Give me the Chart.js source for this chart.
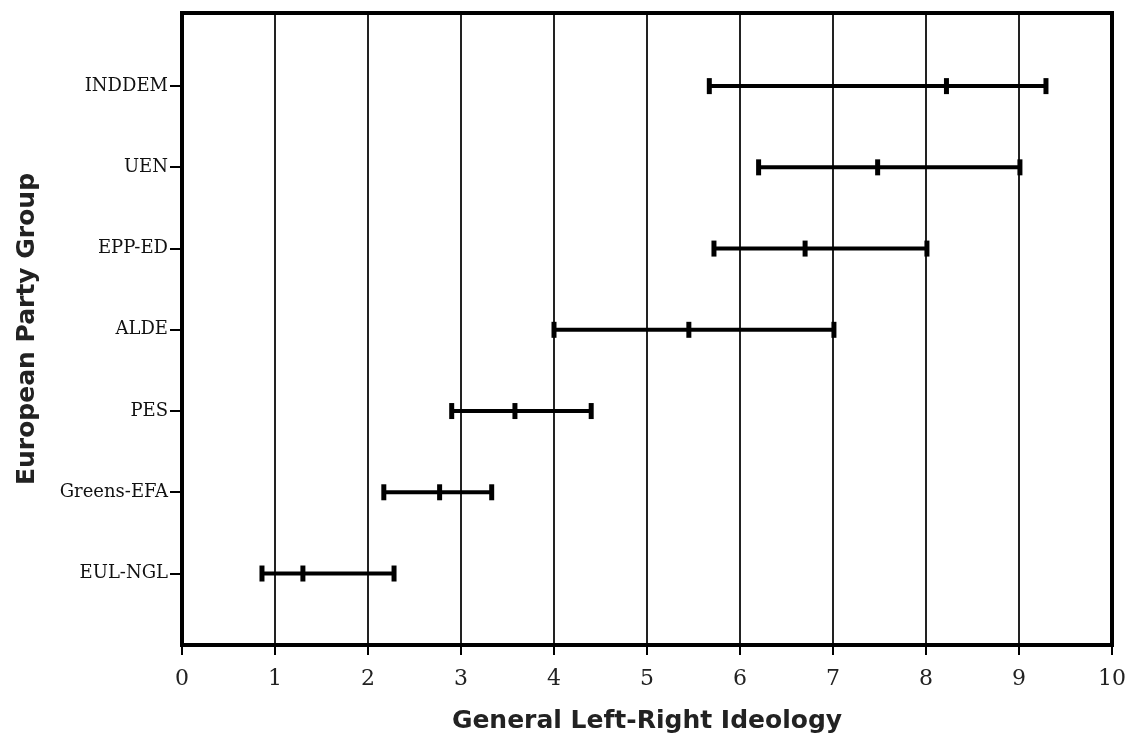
<!DOCTYPE html>
<html>
<head>
<meta charset="utf-8">
<script src="https://cdn.jsdelivr.net/npm/chart.js@4.4.1/dist/chart.umd.min.js"></script>
<style>
  html, body { margin: 0; padding: 0; background: #fff; }
</style>
</head>
<body>
<canvas id="chart" width="1132" height="742"></canvas>
<script>
// party groups, bottom to top
var categories = ['EUL-NGL', 'Greens-EFA', 'PES', 'ALDE', 'EPP-ED', 'UEN', 'INDDEM'];
var lowValues  = [0.86, 2.17, 2.90, 4.00, 5.72, 6.20, 5.67];
var meanValues = [1.30, 2.77, 3.58, 5.45, 6.70, 7.48, 8.22];
var highValues = [2.28, 3.33, 4.40, 7.01, 8.01, 9.01, 9.29];
var xTicks = [0, 1, 2, 3, 4, 5, 6, 7, 8, 9, 10];

var datasets = categories.map(function(c, i){
	return {
		label: c,
		data: [{x: lowValues[i], y: i + 1}, {x: highValues[i], y: i + 1}],
		showLine: true,
		borderColor: '#000',
		borderWidth: 4,
		pointRadius: 0
	};
});

var caps = [];
categories.forEach(function(c, i){
	caps.push({x: lowValues[i], y: i + 1});
	caps.push({x: meanValues[i], y: i + 1});
	caps.push({x: highValues[i], y: i + 1});
});

datasets.push({
	label: 'caps',
	data: caps,
	pointStyle: 'line',
	rotation: 90,
	pointRadius: 8,
	borderWidth: 5,
	borderColor: '#000',
	backgroundColor: '#000'
});

// box round the plot area
var framePlugin = {
	id: 'frame',
	afterDatasetsDraw: function(chart){
		var a = chart.chartArea, ctx = chart.ctx;
		ctx.save();
		ctx.strokeStyle = '#000';
		ctx.lineWidth = 4;
		ctx.strokeRect(a.left, a.top, a.right - a.left, a.bottom - a.top);
		ctx.restore();
	}
};

var ctx = document.getElementById('chart').getContext('2d');
new Chart(ctx, {
	type: 'scatter',
	data: {datasets: datasets},
	plugins: [framePlugin],
	options: {
		responsive: false,
		animation: false,
		layout: {padding: {top: 12, right: 20, bottom: 6, left: 12}},
		plugins: {legend: {display: false}, tooltip: {enabled: false}},
		scales: {
			x: {
				type: 'linear',
				min: 0,
				max: 10,
				afterBuildTicks: function(axis){
					axis.ticks = xTicks.map(function(v){ return {value: v}; });
				},
				afterFit: function(axis){
					axis.height = 91;
					axis.paddingLeft = 0;
					axis.paddingRight = 0;
				},
				ticks: {
					font: {family: 'DejaVu Serif', size: 22},
					color: '#222',
					padding: 11
				},
				grid: {color: '#222', lineWidth: 2, tickLength: 10, tickColor: '#000'},
				border: {display: true, color: '#000', width: 4},
				title: {
					display: true,
					text: 'General Left-Right Ideology',
					font: {family: 'DejaVu Sans', size: 25, weight: 'bold'},
					color: '#222',
					padding: {top: 10, bottom: 0}
				}
			},
			y: {
				type: 'linear',
				min: 0.12,
				max: 7.9,
				afterBuildTicks: function(axis){
					axis.ticks = categories.map(function(c, i){ return {value: i + 1}; });
				},
				afterFit: function(axis){ axis.width = 170; },
				ticks: {
					font: {family: 'DejaVu Serif', size: 18},
					color: '#111',
					padding: 2,
					callback: function(v){ return categories[v - 1]; }
				},
				grid: {drawOnChartArea: false, drawTicks: true, tickLength: 12, color: '#000', lineWidth: 2},
				border: {display: true, color: '#000', width: 4},
				title: {
					display: true,
					text: 'European Party Group',
					font: {family: 'DejaVu Sans', size: 25, weight: 'bold'},
					color: '#222',
					padding: {top: 0, bottom: 10}
				}
			}
		}
	}
});
</script>
</body>
</html>
